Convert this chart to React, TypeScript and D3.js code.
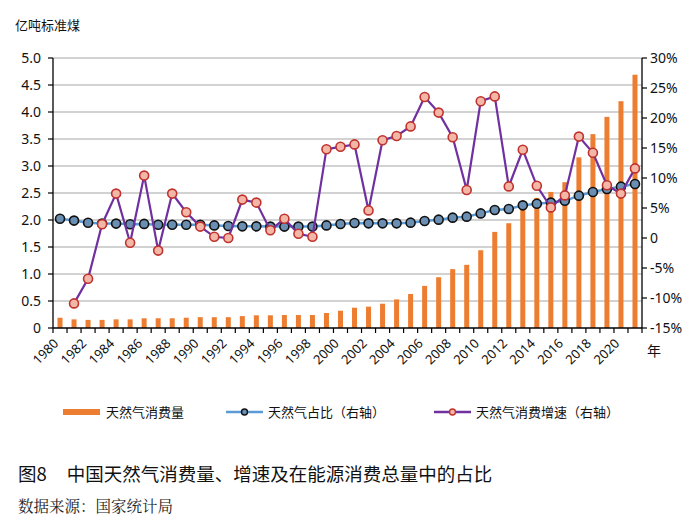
import React from "react";
import * as d3 from "d3";

const years = d3.range(1980, 2022);
const consumption = [0.19,0.16,0.15,0.15,0.16,0.16,0.18,0.18,0.18,0.19,0.20,0.20,0.20,0.22,0.235,0.235,0.24,0.24,0.24,0.278,0.32,0.376,0.395,0.45,0.53,0.63,0.78,0.94,1.09,1.17,1.44,1.78,1.94,2.22,2.41,2.52,2.70,3.16,3.59,3.91,4.20,4.69];
const share = [3.2,2.9,2.55,2.4,2.4,2.3,2.35,2.2,2.2,2.2,2.2,2.1,2.0,1.94,1.94,1.9,1.9,1.9,1.9,2.1,2.33,2.5,2.44,2.44,2.44,2.56,2.83,3.06,3.39,3.56,4.1,4.67,4.83,5.44,5.72,5.9,6.2,7.06,7.67,8.17,8.56,9.0];
const growth: (number | null)[] = [null,-10.9,-6.8,2.3,7.4,-0.8,10.4,-2.1,7.4,4.3,1.9,0.2,0.0,6.4,5.9,1.3,3.2,0.7,0.2,14.8,15.2,15.6,4.6,16.3,17.0,18.6,23.5,20.9,16.8,8.0,22.8,23.6,8.6,14.7,8.7,5.1,7.1,16.9,14.2,8.8,7.4,11.6];
const leftTicks = [0,0.5,1,1.5,2,2.5,3,3.5,4,4.5,5];
const rightTicks = [-15,-10,-5,0,5,10,15,20,25,30];
const xLabelYears = d3.range(1980, 2021, 2);

const FONT = "'Noto Sans', 'Noto Sans CJK SC', sans-serif";
const CJK = "'Noto Sans CJK SC', sans-serif";

export default function App() {
  const L = 53, R = 642, T = 58, B = 328;
  const x = d3.scaleBand<number>().domain(years).range([L, R]).padding(0);
  const bw = x.bandwidth();
  const yL = d3.scaleLinear().domain([0, 5]).range([B, T]);
  const yR = d3.scaleLinear().domain([-15, 30]).range([B, T]);
  const cx = (yr: number) => (x(yr) as number) + bw / 2;
  const barW = 5;

  const shareLine = d3.line<number>().x((_, i) => cx(years[i])).y((d) => yR(d));
  const growthPts = growth
    .map((g, i) => ({ yr: years[i], g }))
    .filter((d) => d.g !== null) as { yr: number; g: number }[];
  const growthLine = d3.line<{ yr: number; g: number }>().x((d) => cx(d.yr)).y((d) => yR(d.g));

  const fmtR = (v: number) => (v === 0 ? "0" : `${v}%`);
  const fmtL = (v: number) => (v === 0 ? "0" : v.toFixed(1));

  return (
    <svg width={700} height={528} style={{ position: "absolute", left: 0, top: 0, background: "#fff" }}>
      {leftTicks.filter((t) => t > 0).map((t) => (
        <line key={"g" + t} x1={L} x2={R} y1={yL(t)} y2={yL(t)} stroke="#c3c3c3" strokeWidth={1.5} />
      ))}
      {consumption.map((v, i) => (
        <rect key={"b" + i} x={cx(years[i]) - barW / 2} y={yL(v)} width={barW} height={yL(0) - yL(v)} fill="#ED7D31" />
      ))}
      <line x1={L} x2={L} y1={T} y2={B} stroke="#000" strokeWidth={1.3} />
      <line x1={R} x2={R} y1={T} y2={B} stroke="#000" strokeWidth={1.3} />
      <line x1={L} x2={R} y1={B} y2={B} stroke="#000" strokeWidth={1.3} />
      {leftTicks.map((t) => (
        <g key={"lt" + t}>
          <line x1={L - 5} x2={L} y1={yL(t)} y2={yL(t)} stroke="#000" strokeWidth={1.2} />
          <text x={41} y={yL(t)} dy="0.35em" textAnchor="end" fontSize={14} fontFamily={FONT} fill="#111">{fmtL(t)}</text>
        </g>
      ))}
      {rightTicks.map((t) => (
        <g key={"rt" + t}>
          <line x1={R} x2={R + 5} y1={yR(t)} y2={yR(t)} stroke="#000" strokeWidth={1.2} />
          <text x={650} y={yR(t)} dy="0.35em" textAnchor="start" fontSize={14} fontFamily={FONT} fill="#111">{fmtR(t)}</text>
        </g>
      ))}
      {d3.range(0, years.length + 1).map((i) => (
        <line key={"xt" + i} x1={L + i * bw} x2={L + i * bw} y1={B} y2={B + 5} stroke="#000" strokeWidth={1.2} />
      ))}
      {xLabelYears.map((yr) => {
        const px = L + (yr - 1980) * bw;
        return (
          <text key={"xl" + yr} transform={`translate(${px + 3},${B + 13}) rotate(-45)`} textAnchor="end" dy="0.35em" fontSize={13} fontFamily={FONT} fill="#111">{yr}</text>
        );
      })}
      <text x={647} y={356} fontSize={14} fontFamily={CJK} fill="#111">年</text>
      <text x={15} y={25} dy="0.35em" fontSize={13} fontFamily={CJK} fill="#111">亿吨标准煤</text>

      <path d={shareLine(share) || ""} fill="none" stroke="#5B9BD5" strokeWidth={2.5} />
      {share.map((v, i) => (
        <circle key={"s" + i} cx={cx(years[i])} cy={yR(v)} r={4.5} fill="#6b8fb3" stroke="#111" strokeWidth={1.6} />
      ))}
      <path d={growthLine(growthPts) || ""} fill="none" stroke="#7030A0" strokeWidth={2.2} />
      {growthPts.map((d, i) => (
        <circle key={"gr" + i} cx={cx(d.yr)} cy={yR(d.g)} r={4.5} fill="#f2b7a6" stroke="#c0322e" strokeWidth={1.6} />
      ))}

      <rect x={63} y={409} width={37} height={6} fill="#ED7D31" />
      <text x={106} y={412} dy="0.35em" fontSize={13} fontFamily={CJK} fill="#111">天然气消费量</text>
      <line x1={226} x2={263} y1={412} y2={412} stroke="#5B9BD5" strokeWidth={2.5} />
      <circle cx={244.5} cy={412} r={3} fill="#6b8fb3" stroke="#111" strokeWidth={1.4} />
      <text x={268} y={412} dy="0.35em" fontSize={13} fontFamily={CJK} fill="#111">天然气占比（右轴）</text>
      <line x1={434} x2={471} y1={412} y2={412} stroke="#7030A0" strokeWidth={2.5} />
      <circle cx={452.5} cy={412} r={3} fill="#f2b7a6" stroke="#c0322e" strokeWidth={1.4} />
      <text x={476} y={412} dy="0.35em" fontSize={13} fontFamily={CJK} fill="#111">天然气消费增速（右轴）</text>

      <text x={18} y={475} dy="0.35em" fontSize={18.5} fontFamily={CJK} fill="#111">
        <tspan>图8</tspan>
        <tspan dx={20}>中国天然气消费量、增速及在能源消费总量中的占比</tspan>
      </text>
      <text x={18} y={507} dy="0.35em" fontSize={15.5} fontFamily="'Noto Serif CJK SC', 'Noto Sans CJK SC', serif" fill="#222">数据来源：国家统计局</text>
    </svg>
  );
}
